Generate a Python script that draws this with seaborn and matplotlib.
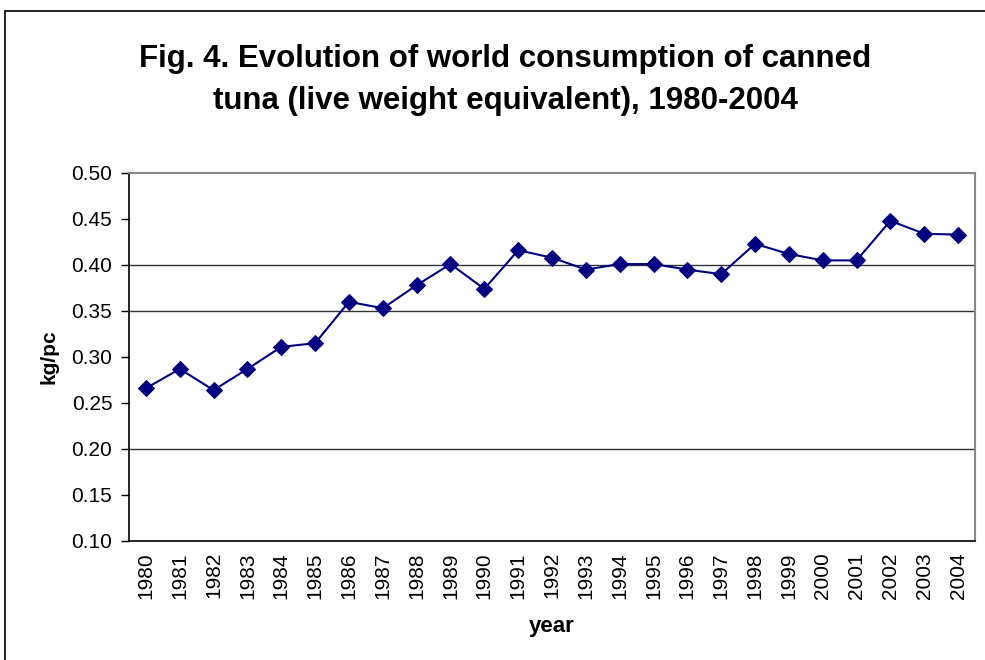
import pandas as pd
import seaborn as sns
import matplotlib
matplotlib.use("Agg")
import matplotlib.pyplot as plt
from matplotlib.patches import Rectangle

# data
years = list(range(1980, 2005))
kg_pc = [0.266, 0.287, 0.264, 0.287, 0.311, 0.315, 0.360, 0.353, 0.378, 0.401,
         0.374, 0.416, 0.408, 0.395, 0.401, 0.401, 0.395, 0.390, 0.423, 0.412,
         0.405, 0.405, 0.448, 0.434, 0.433]
y_ticks = [0.10, 0.15, 0.20, 0.25, 0.30, 0.35, 0.40, 0.45, 0.50]
grid_at = [0.20, 0.35, 0.40]

df = pd.DataFrame({"year": years, "kg_pc": kg_pc})

sns.set_style("white")
plt.rcParams["font.family"] = ["Liberation Sans", "DejaVu Sans"]
plt.rcParams["text.color"] = "black"
plt.rcParams["axes.labelcolor"] = "black"
plt.rcParams["xtick.color"] = "black"
plt.rcParams["ytick.color"] = "black"

fig = plt.figure(figsize=(9.85, 6.6), dpi=100)
ax = fig.add_axes([129 / 985, 1 - 541 / 660, (975 - 129) / 985, (541 - 173) / 660])

for g in grid_at:
    ax.axhline(g, color="#333333", lw=1.0, zorder=1)

sns.lineplot(data=df, x="year", y="kg_pc", ax=ax, color="#000080",
             marker="D", markersize=8, markeredgecolor="#000080",
             linewidth=1.5, zorder=3)

ax.set_xlim(years[0] - 0.5, years[-1] + 0.5)
ax.set_ylim(0.10, 0.50)
ax.set_yticks(y_ticks)
ax.set_yticklabels([f"{v:.2f}" for v in y_ticks], fontsize=15)
ax.set_xticks(years)
ax.set_xticklabels([str(y) for y in years], rotation=90, fontsize=15)
ax.set_xticks([y + 0.5 for y in [years[0] - 1] + years], minor=True)
ax.tick_params(axis="x", which="major", length=0, pad=8)
ax.tick_params(axis="x", which="minor", length=5, width=1, color="black", direction="out")
ax.tick_params(axis="y", length=6, width=1, color="black", direction="out", left=True, pad=6)

ax.set_xlabel("year", fontsize=16, fontweight="bold", labelpad=12)
ax.set_ylabel("kg/pc", fontsize=15, fontweight="bold", labelpad=9)

for side in ["left", "bottom"]:
    ax.spines[side].set_color("black")
    ax.spines[side].set_linewidth(1.2)
for side in ["top", "right"]:
    ax.spines[side].set_color("#888888")
    ax.spines[side].set_linewidth(1.5)

fig.text(0.513, 0.879, "Fig. 4. Evolution of world consumption of canned\ntuna (live weight equivalent), 1980-2004",
         ha="center", va="center", fontsize=22.5, fontweight="bold", linespacing=1.5)

# chart border
fig.patches.append(Rectangle((5 / 985, -0.05), 1.1, 1 - 11 / 660 + 0.05,
                             transform=fig.transFigure, fill=False,
                             edgecolor="black", lw=1.2))

plt.savefig("out.png", dpi=100)
plt.close()
